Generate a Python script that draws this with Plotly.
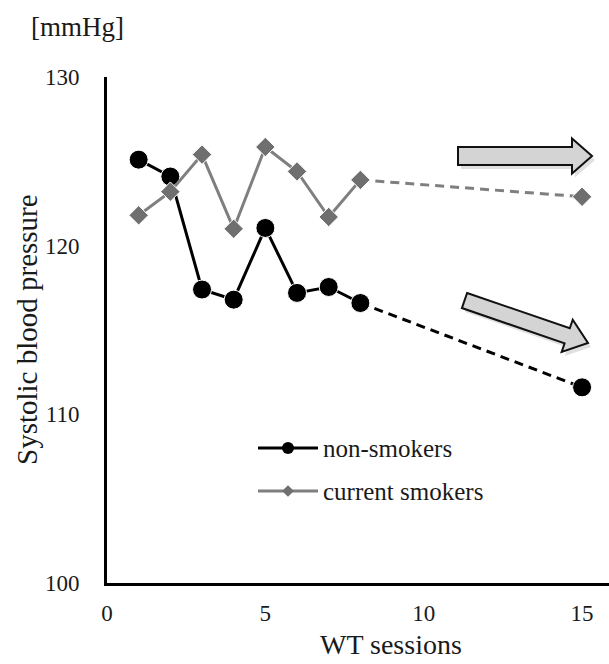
import math
import plotly.graph_objects as go

# ---- data ----
sessions = [1, 2, 3, 4, 5, 6, 7, 8, 15]
non_smokers = [125.1, 124.1, 117.4, 116.8, 121.05, 117.2, 117.55, 116.6, 111.6]
current_smokers = [121.8, 123.2, 125.4, 121.0, 125.85, 124.4, 121.7, 123.9, 122.9]
x_ticks = [0, 5, 10, 15]
y_ticks = [100, 110, 120, 130]
series_names = ["non-smokers", "current smokers"]

# ---- layout constants ----
W, H = 609, 664
ML, MR, MT, MB = 107, 0, 77, 81
XR = [0, 15.85]
YR = [100, 130]
FONT = "Liberation Serif, Times New Roman, serif"
TXT = "#1a1a1a"
BLACK = "#000000"
GRAY_LINE = "#7f7f7f"
GRAY_MK = "#6f6f6f"

pw = W - ML - MR
ph = H - MT - MB


def px2x(px):
    return XR[0] + (px - ML) / pw * (XR[1] - XR[0])


def py2y(py):
    return YR[1] - (py - MT) / ph * (YR[1] - YR[0])


fig = go.Figure()

n_solid = 8  # sessions 1..8 solid, 8 -> 15 dashed

series = [
    (non_smokers, BLACK, BLACK, "circle", 19, 3),
    (current_smokers, GRAY_LINE, GRAY_MK, "diamond", 15, 3),
]
for vals, lc, mc, sym, ms, lw in series:
    fig.add_trace(go.Scatter(x=sessions[:n_solid], y=vals[:n_solid], mode="lines",
                             line=dict(color=lc, width=lw), showlegend=False, hoverinfo="skip"))
    fig.add_trace(go.Scatter(x=sessions[n_solid - 1:], y=vals[n_solid - 1:], mode="lines",
                             line=dict(color=lc, width=lw, dash="9px,6px"), showlegend=False,
                             hoverinfo="skip"))
    fig.add_trace(go.Scatter(x=sessions, y=vals, mode="markers",
                             marker=dict(symbol=sym, size=ms, color=mc,
                                         line=dict(color="white", width=1)),
                             showlegend=False))

# ---- custom legend (line samples drawn inside plot) ----
leg_rows = [
    (series_names[0], BLACK, BLACK, "circle", 12, 448),
    (series_names[1], GRAY_LINE, GRAY_MK, "diamond", 9, 491),
]
for name, lc, mc, sym, ms, rowpy in leg_rows:
    yy = py2y(rowpy)
    fig.add_trace(go.Scatter(x=[px2x(258), px2x(318)], y=[yy, yy], mode="lines",
                             line=dict(color=lc, width=3), showlegend=False, hoverinfo="skip"))
    fig.add_trace(go.Scatter(x=[px2x(288)], y=[yy], mode="markers",
                             marker=dict(symbol=sym, size=ms, color=mc), showlegend=False,
                             hoverinfo="skip"))
    fig.add_annotation(x=px2x(321), y=yy, xref="x", yref="y", text=name, showarrow=False,
                       xanchor="left", yanchor="middle",
                       font=dict(family=FONT, size=25, color=TXT))


# ---- block arrows ----
def path_from_px(pts):
    return "M " + " L ".join(f"{px2x(a):.4f},{py2y(b):.4f}" for a, b in pts) + " Z"


def block_arrow(tail, tip, half_shaft, half_head, head_len):
    dx, dy = tip[0] - tail[0], tip[1] - tail[1]
    L = math.hypot(dx, dy)
    ux, uy = dx / L, dy / L
    nx, ny = -uy, ux
    bx, by = tip[0] - head_len * ux, tip[1] - head_len * uy
    return [
        (tail[0] - half_shaft * nx, tail[1] - half_shaft * ny),
        (bx - half_shaft * nx, by - half_shaft * ny),
        (bx - half_head * nx, by - half_head * ny),
        tip,
        (bx + half_head * nx, by + half_head * ny),
        (bx + half_shaft * nx, by + half_shaft * ny),
        (tail[0] + half_shaft * nx, tail[1] + half_shaft * ny),
    ]


arrows = [
    block_arrow((458, 156), (592, 156), 9, 17.5, 20),
    block_arrow((464.5, 300.5), (588, 343), 8, 17, 22),
]
for pts in arrows:
    shadow = [(a + 3, b + 4) for a, b in pts]
    fig.add_shape(type="path", path=path_from_px(shadow), xref="x", yref="y",
                  fillcolor="rgba(0,0,0,0.12)", line=dict(width=0), layer="above")
    fig.add_shape(type="path", path=path_from_px(pts), xref="x", yref="y",
                  fillcolor="#d4d4d4", line=dict(color="#111111", width=2), layer="above")

# ---- axis titles / unit label ----
fig.add_annotation(x=(391 - ML) / pw, y=0, xref="paper", yref="paper", yshift=-(644 - (H - MB)),
                   text="WT sessions", showarrow=False, xanchor="center", yanchor="middle",
                   font=dict(family=FONT, size=28, color=TXT))
fig.add_annotation(x=0, y=0.5, xref="paper", yref="paper", xshift=-(ML - 27),
                   text="Systolic blood pressure", textangle=-90, showarrow=False,
                   xanchor="center", yanchor="middle",
                   font=dict(family=FONT, size=29, color=TXT))
fig.add_annotation(x=0, y=1, xref="paper", yref="paper", xshift=-(ML - 77), yshift=MT - 27,
                   text="[mmHg]", showarrow=False, xanchor="center", yanchor="middle",
                   font=dict(family=FONT, size=27, color=TXT))

fig.update_layout(
    width=W, height=H,
    margin=dict(l=ML, r=MR, t=MT, b=MB),
    paper_bgcolor="white", plot_bgcolor="white",
    showlegend=False,
    font=dict(family=FONT, color=TXT, size=23),
    xaxis=dict(range=XR, tickvals=x_ticks, ticktext=[str(v) for v in x_ticks],
               showgrid=False, zeroline=False, showline=True, linecolor=BLACK, linewidth=3,
               ticks="", ticklabelstandoff=7, tickfont=dict(family=FONT, size=23, color=TXT)),
    yaxis=dict(range=YR, tickvals=y_ticks, ticktext=[str(v) for v in y_ticks],
               showgrid=False, zeroline=False, showline=True, linecolor=BLACK, linewidth=3,
               ticks="", ticklabelstandoff=20, tickfont=dict(family=FONT, size=23, color=TXT)),
)

fig.write_html("out.html", config={"displayModeBar": False},
               post_script="document.body.style.margin='0px';document.body.style.overflow='hidden';")
